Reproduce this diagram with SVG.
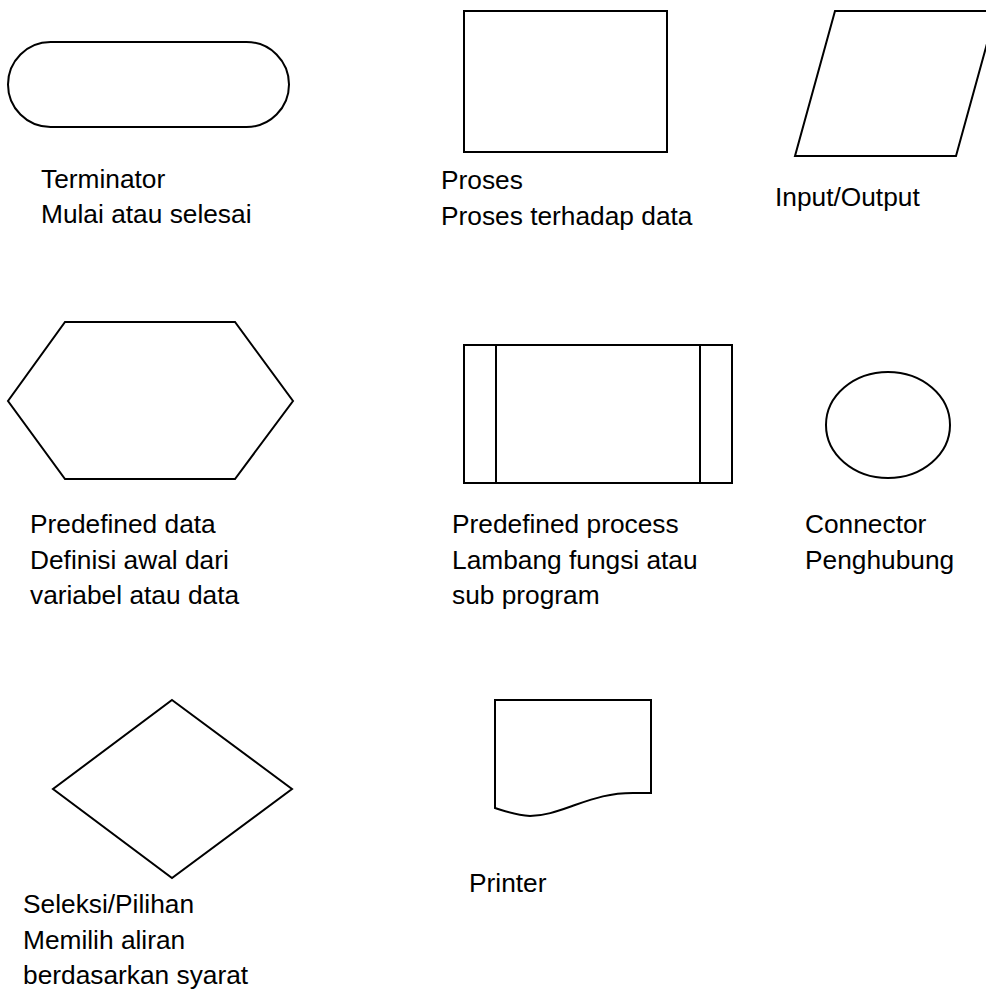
<svg xmlns="http://www.w3.org/2000/svg" width="986" height="989" viewBox="0 0 986 989">
<style>
.s{fill:#fff;stroke:#000;stroke-width:2;stroke-linejoin:miter}
.l{fill:none;stroke:#000;stroke-width:2}
text{font-family:"Liberation Sans",Arial,sans-serif;font-size:26.3px;fill:#000}
</style>
<rect width="986" height="989" fill="#fff"/>
<g id="terminator">
<rect class="s" x="8" y="42" width="281" height="85" rx="42.5" ry="42.5"/>
<text x="41" y="188">Terminator</text>
<text x="41" y="223">Mulai atau selesai</text>
</g>
<g id="proses">
<rect class="s" x="464" y="11" width="203" height="141"/>
<text x="441" y="189">Proses</text>
<text x="441" y="225">Proses terhadap data</text>
</g>
<g id="input-output">
<polygon class="s" points="835,11 996,11 956,156 795,156"/>
<text x="775" y="206">Input/Output</text>
</g>
<g id="predefined-data">
<polygon class="s" points="65,322 235,322 293,401 235,479 65,479 8,401"/>
<text x="30" y="533">Predefined data</text>
<text x="30" y="569">Definisi awal dari</text>
<text x="30" y="604">variabel atau data</text>
</g>
<g id="predefined-process">
<rect class="s" x="464" y="345" width="268" height="138"/>
<line class="l" x1="496" y1="345" x2="496" y2="483"/>
<line class="l" x1="700" y1="345" x2="700" y2="483"/>
<text x="452" y="533">Predefined process</text>
<text x="452" y="569">Lambang fungsi atau</text>
<text x="452" y="604">sub program</text>
</g>
<g id="connector">
<ellipse class="s" cx="888" cy="425" rx="62" ry="53"/>
<text x="805" y="533">Connector</text>
<text x="805" y="569">Penghubung</text>
</g>
<g id="seleksi">
<polygon class="s" points="172,700 292,789 172,878 53,789"/>
<text x="23" y="913">Seleksi/Pilihan</text>
<text x="23" y="949">Memilih aliran</text>
<text x="23" y="984">berdasarkan syarat</text>
</g>
<g id="printer">
<path class="s" d="M495,700 H651 V793 H633 C610,793 595,798 575,805 C558,811 545,816 530,816 C515,815 505,811 495,808 Z"/>
<text x="469" y="892">Printer</text>
</g>
<g id="connectors"></g>
</svg>
